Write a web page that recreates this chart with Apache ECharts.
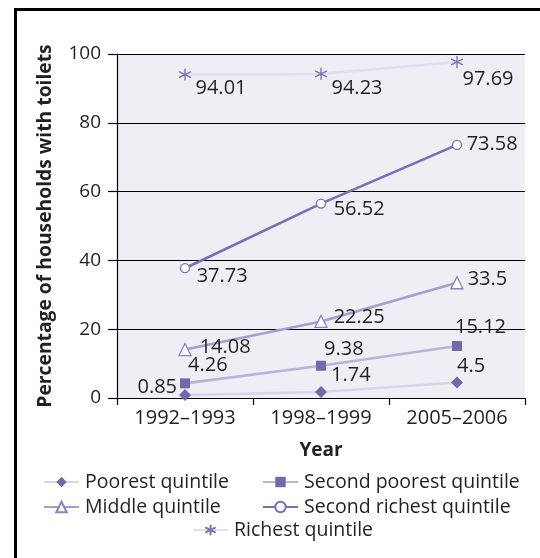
<!DOCTYPE html>
<html>
<head>
<meta charset="utf-8">
<script src="https://cdn.jsdelivr.net/npm/echarts@6/dist/echarts.min.js"></script>
<style>
  html, body { margin: 0; padding: 0; background: #fff; }
  #frame { position: absolute; left: 14px; top: 8px; width: 700px; height: 700px;
           border: 3px solid #000; box-sizing: border-box; }
  #chart { position: absolute; left: 0; top: 0; width: 540px; height: 558px; }
</style>
</head>
<body>
<div id="frame"></div>
<div id="chart"></div>
<script>
// Survey rounds and share of households with toilets, by wealth quintile (%)
const years = ['1992\u20131993', '1998\u20131999', '2005\u20132006'];
const poorest = [0.85, 1.74, 4.5];
const secondPoorest = [4.26, 9.38, 15.12];
const middle = [14.08, 22.25, 33.5];
const secondRichest = [37.73, 56.52, 73.58];
const richest = [94.01, 94.23, 97.69];
const yTicks = { min: 0, max: 100, step: 20 };

const FONT = '"Open Sans", "Noto Sans", sans-serif';
const TEXT = '#231f20';

// Asterisk marker: three crossing strokes
const STAR = 'path://M0,-1L0,1M-0.866,-0.5L0.866,0.5M-0.866,0.5L0.866,-0.5';

// Label placement per point: [side, left/right edge distance from point, vertical shift]
function buildData(values, size, place) {
  return values.map((v, i) => {
    const [side, edge, dy] = place[i];
    const dx = side === 'right' ? edge - size / 2 - 5 : -(edge - size / 2 - 5);
    return { value: v, label: { position: side, offset: [dx, dy] } };
  });
}

function makeSeries(name, values, opts) {
  return {
    name: name,
    type: 'line',
    data: buildData(values, opts.size, opts.place),
    symbol: opts.symbol,
    symbolSize: opts.size,
    z: opts.z,
    lineStyle: { color: opts.line, width: 2.6 },
    itemStyle: opts.item,
    label: {
      show: true,
      fontFamily: FONT,
      fontSize: 20,
      color: TEXT,
      formatter: p => String(p.value)
    },
    emphasis: { disabled: true },
    animation: false
  };
}

const series = [
  makeSeries('Poorest quintile', poorest, {
    symbol: 'diamond', size: 12, z: 2, line: '#d8d4ea',
    item: { color: '#7468a9', borderWidth: 0 },
    place: [['left', 8, -8], ['right', 10, -17], ['right', 0, -16]]
  }),
  makeSeries('Second poorest quintile', secondPoorest, {
    symbol: 'rect', size: 10, z: 3, line: '#b9b2d9',
    item: { color: '#7468a9', borderWidth: 0 },
    place: [['right', 3, -18], ['right', 3, -16], ['right', -2, -19]]
  }),
  makeSeries('Middle quintile', middle, {
    symbol: 'triangle', size: 12, z: 4, line: '#a69ed0',
    item: { color: '#ffffff', borderColor: '#8a80c2', borderWidth: 1.3 },
    place: [['right', 14, -2], ['right', 12, -4], ['right', 10, -3]]
  }),
  makeSeries('Second richest quintile', secondRichest, {
    symbol: 'circle', size: 9, z: 5, line: '#7a6eb6',
    item: { color: '#ffffff', borderColor: '#7a6eb6', borderWidth: 1.3 },
    place: [['right', 11, 8], ['right', 12, 6], ['right', 9, -1]]
  }),
  makeSeries('Richest quintile', richest, {
    symbol: STAR, size: 12, z: 1, line: '#e2dff0',
    item: { color: 'none', borderColor: '#7f74bc', borderWidth: 1.4 },
    place: [['right', 8, 14], ['right', 8, 14], ['right', 3, 17]]
  })
];

function legendAt(name, left, top) {
  return {
    data: [name],
    left: left, top: top,
    orient: 'horizontal',
    itemWidth: 35, itemHeight: 13, itemGap: 0,
    padding: 0,
    selectedMode: false,
    textStyle: { fontFamily: FONT, fontSize: 19.5, color: TEXT, padding: [0, 0, 0, 1] }
  };
}

const chart = echarts.init(document.getElementById('chart'), null, { renderer: 'canvas' });
chart.setOption({
  animation: false,
  grid: {
    left: 117, right: 15, top: 54, bottom: 160,
    show: true, backgroundColor: '#efeef5', borderWidth: 0
  },
  xAxis: {
    type: 'category',
    data: years,
    boundaryGap: true,
    name: 'Year',
    nameLocation: 'middle',
    nameGap: 43,
    nameTextStyle: { fontFamily: FONT, fontSize: 19, fontWeight: 'bold', color: TEXT },
    axisLine: { lineStyle: { color: '#000', width: 1.2 } },
    axisTick: { show: true, length: 7, lineStyle: { color: '#000', width: 1.2 } },
    axisLabel: { fontFamily: FONT, fontSize: 20, color: TEXT, margin: 10 },
    splitLine: { show: false }
  },
  yAxis: {
    type: 'value',
    min: yTicks.min, max: yTicks.max, interval: yTicks.step,
    name: 'Percentage of households with toilets',
    nameLocation: 'middle',
    nameGap: 62,
    nameRotate: 90,
    nameTextStyle: { fontFamily: FONT, fontSize: 19.3, fontWeight: 'bold', color: TEXT },
    axisLine: { show: true, lineStyle: { color: '#000', width: 1.2 } },
    axisTick: { show: true, inside: false, length: 9, lineStyle: { color: '#000', width: 1.2 } },
    axisLabel: { fontFamily: FONT, fontSize: 19, color: TEXT, margin: 16 },
    splitLine: { show: true, lineStyle: { color: '#000', width: 1.2 } }
  },
  legend: [
    legendAt('Poorest quintile', 43, 472),
    legendAt('Second poorest quintile', 262, 472),
    legendAt('Middle quintile', 43, 497),
    legendAt('Second richest quintile', 262, 497),
    legendAt('Richest quintile', 192, 520)
  ],
  series: series
});
</script>
</body>
</html>
